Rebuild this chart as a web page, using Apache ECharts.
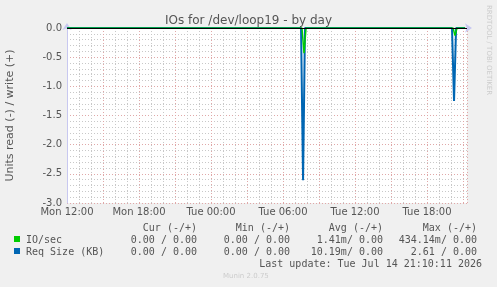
<!DOCTYPE html>
<html>
<head>
<meta charset="utf-8">
<script src="https://cdn.jsdelivr.net/npm/echarts@6/dist/echarts.min.js"></script>
<style>
  html, body { margin: 0; padding: 0; background: #f0f0f0; }
  #chart { width: 497px; height: 287px; }
</style>
</head>
<body>
<div id="chart"></div>
<script>
// hours since Mon 12:00
const tickLabels = ['Mon 12:00', 'Mon 18:00', 'Tue 00:00', 'Tue 06:00', 'Tue 12:00', 'Tue 18:00']
const ioHours = [0, 19.58, 19.75, 19.92, 32.17, 32.33, 32.5, 33.17]
const ioValues = [0, 0, -0.43, 0, 0, -0.13, 0, 0]
const reqHours = [0, 19.5, 19.67, 19.83, 32.08, 32.25, 32.42, 33.17]
const reqValues = [0, 0, -2.61, 0, 0, -1.25, 0, 0]

const legendNames = ['IO/sec', 'Req Size (KB)']
const legendColors = ['#00cc00', '#0066b3']
const colHeaders = ['Cur (-/+)', 'Min (-/+)', 'Avg (-/+)', 'Max (-/+)']
const ioStats = ['0.00 / 0.00', '0.00 / 0.00', '1.41m/ 0.00', '434.14m/ 0.00']
const reqStats = ['0.00 / 0.00', '0.00 / 0.00', '10.19m/ 0.00', '2.61 / 0.00']
const lastUpdate = 'Last update: Tue Jul 14 21:10:11 2026'

const chart = echarts.init(document.getElementById('chart'))

const mono = 'DejaVu Sans Mono'
const colRight = [197, 290, 383, 477]
const graphic = []
colHeaders.forEach((h, i) => {
    graphic.push({ type: 'text', right: 497 - colRight[i], top: 223,
        style: { text: h, font: '10px ' + mono, fill: '#555' } })
})
;[ioStats, reqStats].forEach((row, r) => {
    graphic.push({ type: 'rect', shape: { x: 14, y: 236 + r * 12, width: 6, height: 6 },
        style: { fill: legendColors[r] } })
    graphic.push({ type: 'text', left: 26, top: 235 + r * 12,
        style: { text: legendNames[r], font: '10px ' + mono, fill: '#555' } })
    row.forEach((v, i) => {
        graphic.push({ type: 'text', right: 497 - colRight[i], top: 235 + r * 12,
            style: { text: v, font: '10px ' + mono, fill: '#555' } })
    })
})
graphic.push({ type: 'text', right: 15, top: 259,
    style: { text: lastUpdate, font: '10px ' + mono, fill: '#555' } })
graphic.push({ type: 'text', left: 223, top: 273,
    style: { text: 'Munin 2.0.75', font: '7px DejaVu Sans', fill: '#ccc' } })
graphic.push({ type: 'text', x: 492, y: 5, rotation: -Math.PI / 2,
    style: { text: 'RRDTOOL / TOBI OETIKER', font: '7px DejaVu Sans', fill: '#ccc' } })

const options = {
    backgroundColor: '#f0f0f0',
    animation: false,
    title: {
        text: 'IOs for /dev/loop19 - by day',
        left: 'center',
        top: 10,
        textStyle: { fontFamily: 'DejaVu Sans', fontSize: 12, fontWeight: 'normal', color: '#555' }
    },
    grid: {
        left: 67, top: 28, width: 400, height: 175,
        outerBoundsMode: 'none', containLabel: false,
        backgroundColor: '#fff', show: true, borderWidth: 0
    },
    xAxis: {
        type: 'value',
        min: 0,
        max: 33.33,
        interval: 3,
        axisLine: { lineStyle: { color: '#c8c8f0' }, symbol: ['none', 'arrow'], symbolSize: [7, 7], symbolOffset: [0, 5] },
        axisTick: { show: false },
        axisLabel: {
            showMaxLabel: false,
            color: '#555', fontFamily: 'DejaVu Sans', fontSize: 10, margin: 4,
            formatter: v => (v % 6 === 0 ? tickLabels[v / 6] : '')
        },
        splitLine: { lineStyle: { color: '#e0a8a8', type: [1, 2] } },
        minorTick: { show: false, splitNumber: 3 },
        minorSplitLine: { show: true, lineStyle: { color: '#c8c8c8', type: [1, 2] } }
    },
    yAxis: {
        type: 'value',
        min: -3,
        max: 0,
        interval: 0.5,
        name: 'Units read (-) / write (+)',
        nameLocation: 'middle',
        nameGap: 51,
        nameTextStyle: { color: '#555', fontFamily: 'DejaVu Sans', fontSize: 11 },
        axisLine: { show: true, lineStyle: { color: '#c8c8f0' }, symbol: ['none', 'arrow'], symbolSize: [7, 7], symbolOffset: [0, 5] },
        axisTick: { show: false },
        axisLabel: { color: '#555', fontFamily: 'DejaVu Sans', fontSize: 10, margin: 5, formatter: v => v.toFixed(1) },
        splitLine: { lineStyle: { color: '#e0a8a8', type: [1, 2] } },
        minorTick: { show: false, splitNumber: 5 },
        minorSplitLine: { show: true, lineStyle: { color: '#c8c8c8', type: [1, 2] } }
    },
    series: [
        {
            name: 'Req Size (KB)',
            type: 'line',
            symbol: 'none',
            color: '#0066b3',
            lineStyle: { width: 2 },
            data: reqHours.map((h, i) => [h, reqValues[i]])
        },
        {
            name: 'IO/sec',
            type: 'line',
            symbol: 'none',
            color: '#00cc00',
            lineStyle: { width: 1.5 },
            data: ioHours.map((h, i) => [h, ioValues[i]]),
            markLine: {
                silent: true,
                symbol: 'none',
                label: { show: false },
                lineStyle: { color: '#000', type: 'solid', width: 1 },
                data: [{ yAxis: 0 }]
            }
        }
    ],
    graphic: graphic
}
chart.setOption(options)
</script>
</body>
</html>
